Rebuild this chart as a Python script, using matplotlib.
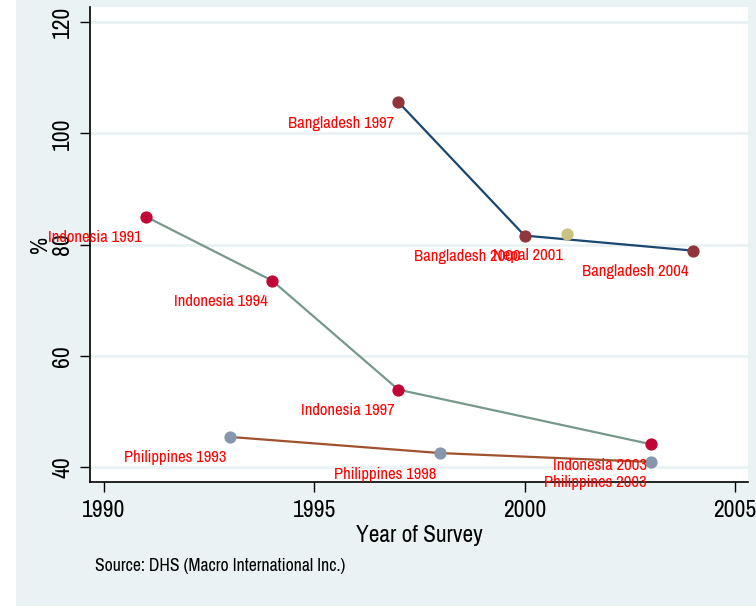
import matplotlib
matplotlib.use('Agg')
import matplotlib.pyplot as plt
from matplotlib.patches import Rectangle

# Survey data (% values)
bang_years = [1997, 2000, 2004]
bang_vals = [105.6, 81.6, 78.9]
bang_labels = ['Bangladesh 1997', 'Bangladesh 2000', 'Bangladesh 2004']

indo_years = [1991, 1994, 1997, 2003]
indo_vals = [85.0, 73.5, 53.9, 44.1]
indo_labels = ['Indonesia 1991', 'Indonesia 1994', 'Indonesia 1997', 'Indonesia 2003']

phil_years = [1993, 1998, 2003]
phil_vals = [45.4, 42.5, 40.9]
phil_labels = ['Philippines 1993', 'Philippines 1998', 'Philippines 2003']

nepal_years = [2001]
nepal_vals = [81.8]
nepal_labels = ['Nepal 2001']

narrow = ['Liberation Sans Narrow', 'Archivo Narrow', 'Roboto Condensed',
          'Liberation Sans', 'DejaVu Sans']
plt.rcParams['font.family'] = narrow

bg = '#eaf2f3'
fig = plt.figure(figsize=(7.56, 6.15), dpi=100, facecolor='white')
fig.patches.append(Rectangle((16 / 756, 1 - 606 / 615), 740 / 756, 606 / 615,
                             transform=fig.transFigure, facecolor=bg,
                             edgecolor='none', zorder=-5))
ax = fig.add_axes([90 / 756, 1 - 482 / 615, 658 / 756, 475 / 615])
ax.set_facecolor('white')

for v in [40, 60, 80, 100, 120]:
    ax.axhline(v, color=bg, linewidth=2, zorder=1)

# lines then markers
ax.plot(bang_years, bang_vals, color='#1a476f', linewidth=1.6, zorder=2)
ax.plot(indo_years, indo_vals, color='#76998a', linewidth=1.6, zorder=2)
ax.plot(phil_years, phil_vals, color='#a0522d', linewidth=1.6, zorder=2)

ax.plot(bang_years, bang_vals, 'o', color='#90353b', markersize=7.8, zorder=3)
ax.plot(indo_years, indo_vals, 'o', color='#c10534', markersize=7.8, zorder=3)
ax.plot(phil_years, phil_vals, 'o', color='#8497ad', markersize=7.8, zorder=3)
ax.plot(nepal_years, nepal_vals, 'o', color='#cac27e', markersize=7.8, zorder=3)

# marker labels, placed lower-left of each point
for yrs, vals, labs in [(bang_years, bang_vals, bang_labels),
                        (indo_years, indo_vals, indo_labels),
                        (phil_years, phil_vals, phil_labels),
                        (nepal_years, nepal_vals, nepal_labels)]:
    for x, y, t in zip(yrs, vals, labs):
        ax.annotate(t, (x, y), xytext=(-4, -21), textcoords='offset pixels',
                    ha='right', va='center', color='#ff0000', fontsize=12,
                    annotation_clip=False, zorder=4)

ax.set_xlim(1989.67, 2005.31)
ax.set_ylim(37.3, 122.7)
ax.set_xticks([1990, 1995, 2000, 2005])
ax.set_yticks([40, 60, 80, 100, 120])
ax.tick_params(axis='x', length=7, width=1, pad=6, labelsize=17)
ax.tick_params(axis='y', length=7, width=1, pad=5, labelsize=17)
for lab in ax.get_yticklabels():
    lab.set_rotation(90)
    lab.set_va('center')

for s in ['top', 'right']:
    ax.spines[s].set_visible(False)
ax.spines['left'].set_linewidth(1.2)
ax.spines['bottom'].set_linewidth(1.2)

ax.set_xlabel('Year of Survey', fontsize=16.8, labelpad=3)
fig.text(40 / 756, 1 - 244 / 615, '%', rotation=90, fontsize=17,
         ha='center', va='center')
fig.text(95 / 756, 1 - 566 / 615, 'Source: DHS (Macro International Inc.)',
         fontsize=12.7, ha='left', va='center')

fig.savefig('out.png', dpi=100, facecolor='white')
